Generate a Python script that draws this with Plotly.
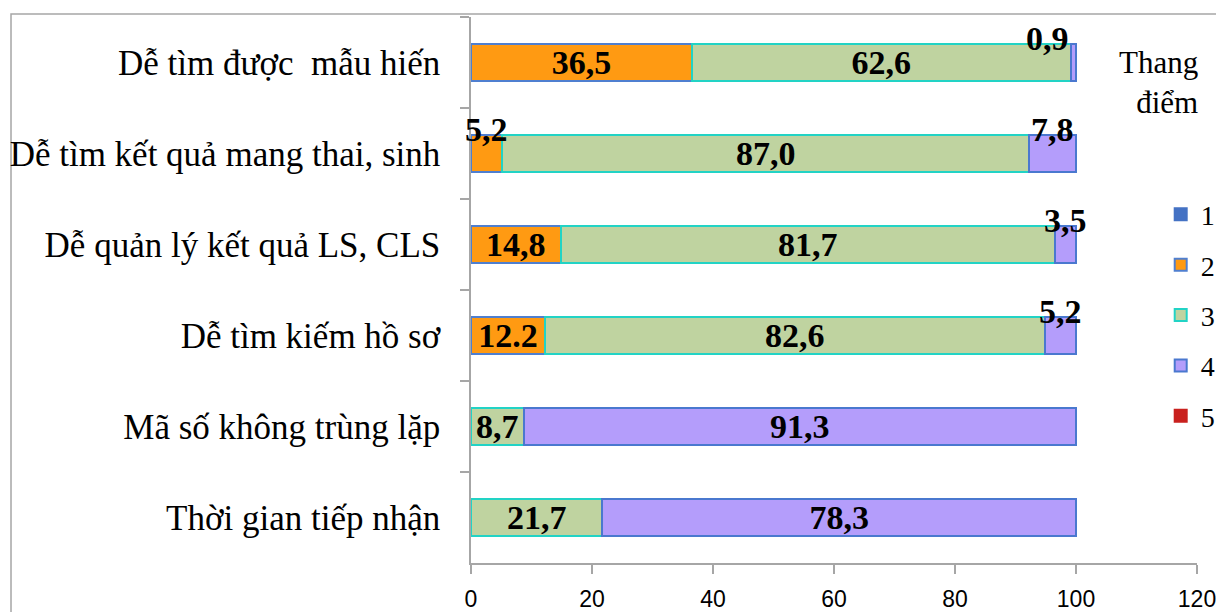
import plotly.graph_objects as go

categories = [
    "Dễ tìm được  mẫu hiến",
    "Dễ tìm kết quả mang thai, sinh",
    "Dễ quản lý kết quả LS, CLS",
    "Dễ tìm kiếm hồ sơ",
    "Mã số không trùng lặp",
    "Thời gian tiếp nhận",
]
series_names = ["1", "2", "3", "4", "5"]
s1 = [None, None, None, None, None, None]
s2 = [36.5, 5.2, 14.8, 12.2, None, None]
s3 = [62.6, 87.0, 81.7, 82.6, 8.7, 21.7]
s4 = [0.9, 7.8, 3.5, 5.2, 91.3, 78.3]
s5 = [None, None, None, None, None, None]
s2_labels = ["36,5", "5,2", "14,8", "12.2", "", ""]
x_ticks = [0, 20, 40, 60, 80, 100, 120]

series_values = [s1, s2, s3, s4, s5]
fills = ["#4472C4", "#FF9A12", "#BFD3A0", "#B49DFB", "#C9211E"]
outlines = ["#4472C4", "#4F7FD0", "#22D3C5", "#4A78CF", "#C9211E"]

SMALL = 8.0
SERIF = "Liberation Serif, Times New Roman, serif"
label_font = dict(family=SERIF, size=34, color="black")


def fmt(v):
    return f"{v:.1f}".replace(".", ",")


fig = go.Figure()
annotations = []
cum = [0.0] * len(categories)
for k, (name, vals) in enumerate(zip(series_names, series_values)):
    texts = []
    for i, v in enumerate(vals):
        if v is None:
            texts.append("")
            continue
        lab = s2_labels[i] if k == 1 else fmt(v)
        if v < SMALL:
            texts.append("")
            start = cum[i]
            end = cum[i] + v
            if v < 2:
                ax, anchor = end - 0.9, "right"
            else:
                ax, anchor = (start + end) / 2, "center"
            annotations.append(dict(
                x=ax, y=categories[i], xref="x", yref="y", text=lab,
                showarrow=False, xanchor=anchor, yanchor="middle", yshift=24,
                font=dict(**label_font, weight="bold"),
            ))
        else:
            texts.append(lab)
        cum[i] += v
    fig.add_trace(go.Bar(
        name=name, y=categories, x=vals, orientation="h",
        marker=dict(color=fills[k], line=dict(color=outlines[k], width=2)),
        text=texts, textposition="inside", insidetextanchor="middle",
        constraintext="none",
        textfont=dict(**label_font, weight="bold"),
        legendgroup=name,
        hoverinfo="x+y+name",
    ))

annotations.append(dict(
    x=1.004, y=0.952, xref="paper", yref="paper", text="Thang<br>điểm",
    showarrow=False, xanchor="right", yanchor="top", align="right",
    font=dict(family=SERIF, size=31, color="black"),
))

fig.update_layout(
    width=1216, height=604,
    margin=dict(l=463, r=27, t=9, b=49, autoexpand=False),
    paper_bgcolor="white", plot_bgcolor="white",
    barmode="stack", bargap=0.6,
    showlegend=True,
    legend=dict(
        x=0.95, y=0.684, xanchor="left", yanchor="top",
        traceorder="grouped", tracegroupgap=11,
        font=dict(family=SERIF, size=28, color="black"),
        bgcolor="rgba(0,0,0,0)",
    ),
    annotations=annotations,
    shapes=[dict(
        type="rect", xref="paper", yref="paper",
        x0=-0.6336, x1=1.2, y0=-0.3, y1=1.0055,
        line=dict(color="#A6A6A6", width=1.5), fillcolor="rgba(0,0,0,0)", layer="below",
    )],
    xaxis=dict(
        range=[0, 120], tickvals=x_ticks, showgrid=False, zeroline=False,
        showline=True, linecolor="#A6A6A6", linewidth=1.5,
        ticks="outside", ticklen=9, tickcolor="#A6A6A6", tickwidth=1.5,
        ticklabelstandoff=6,
        tickfont=dict(family="Liberation Sans Narrow, Liberation Sans, sans-serif", size=23, color="black"),
    ),
    yaxis=dict(
        categoryorder="array", categoryarray=categories, autorange="reversed",
        showgrid=False, zeroline=False,
        showline=True, linecolor="#A6A6A6", linewidth=1.5,
        ticks="outside", ticklen=9, tickcolor="#A6A6A6", tickwidth=1.5,
        tickson="boundaries", ticklabelstandoff=22,
        tickfont=dict(family=SERIF, size=35, color="black"),
    ),
)

fig.write_html("out.html")
